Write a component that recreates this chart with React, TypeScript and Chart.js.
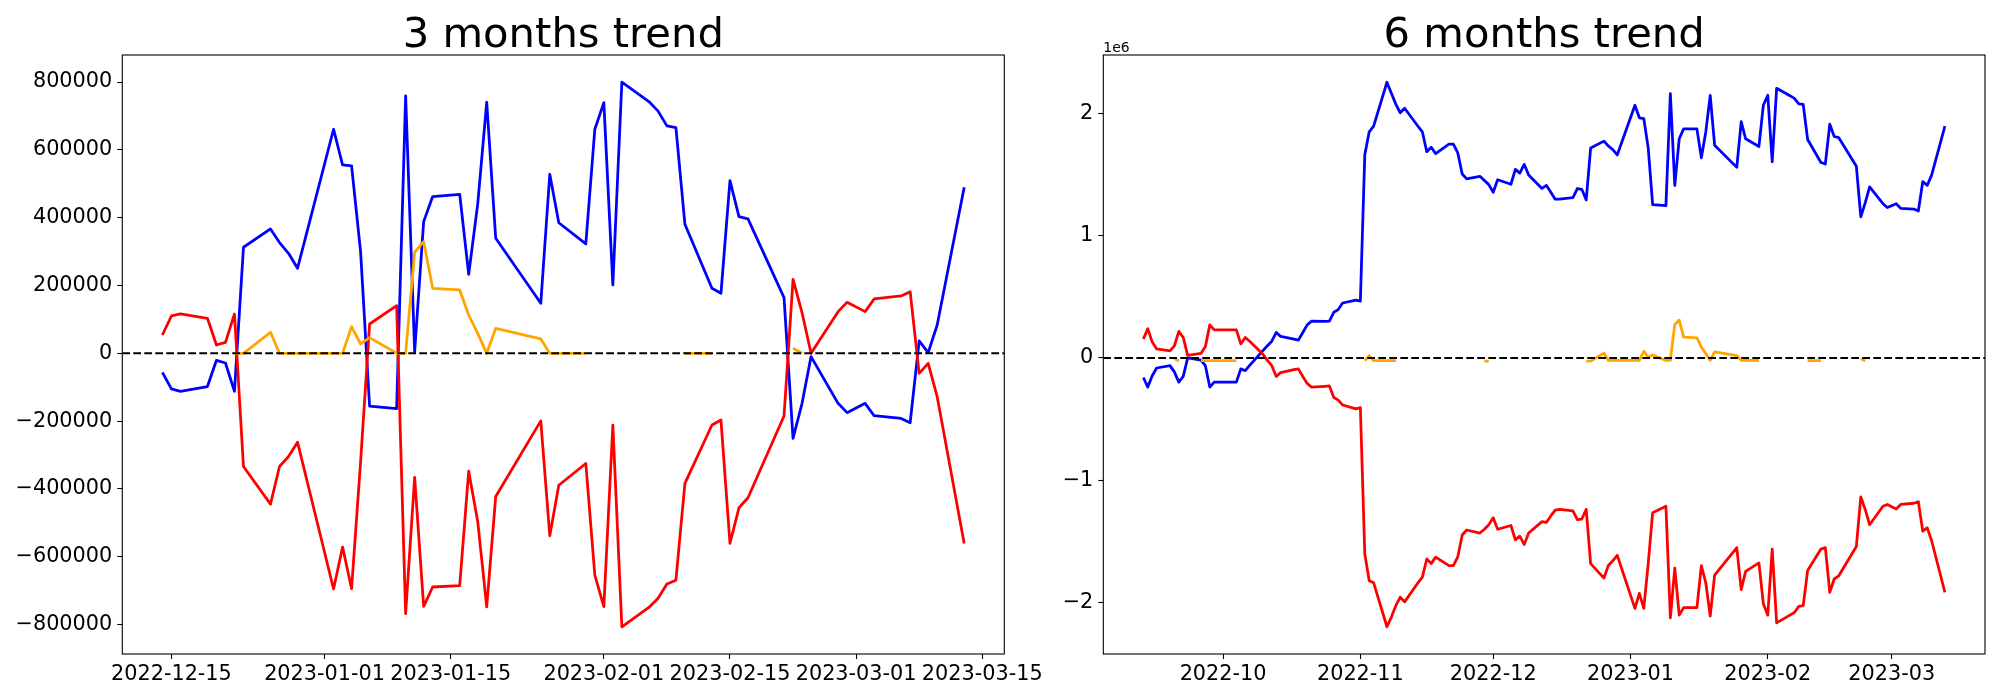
import React, { useEffect, useRef } from "react";
import { Chart, registerables } from "chart.js";

Chart.register(...registerables);

// ---------- 3 months data ----------
const leftDates = [
  "2022-12-14", "2022-12-15", "2022-12-16", "2022-12-19", "2022-12-20", "2022-12-21", "2022-12-22", "2022-12-23",
  "2022-12-26", "2022-12-27", "2022-12-28", "2022-12-29",
  "2023-01-02", "2023-01-03", "2023-01-04", "2023-01-05", "2023-01-06", "2023-01-09", "2023-01-10", "2023-01-11",
  "2023-01-12", "2023-01-13", "2023-01-16", "2023-01-17", "2023-01-18", "2023-01-19", "2023-01-20", "2023-01-25",
  "2023-01-26", "2023-01-27", "2023-01-30", "2023-01-31",
  "2023-02-01", "2023-02-02", "2023-02-03", "2023-02-06", "2023-02-07", "2023-02-08", "2023-02-09", "2023-02-10",
  "2023-02-13", "2023-02-14", "2023-02-15", "2023-02-16", "2023-02-17", "2023-02-21", "2023-02-22", "2023-02-23",
  "2023-02-24", "2023-02-27", "2023-02-28",
  "2023-03-02", "2023-03-03", "2023-03-06", "2023-03-07", "2023-03-08", "2023-03-09", "2023-03-10", "2023-03-13",
];
const leftBlue = [
  -56000, -105000, -112000, -98000, -20600, -28500, -112000, 312700, 366800, 326500, 295000, 250700,
  660800, 555600, 552600, 299900, -156000, -163000, 759100, 5000, 388400, 462200, 469000, 233000, 440000, 740400,
  339200, 147500, 528000, 385000, 322500, 660800,
  739400, 201600, 799400, 742400, 714900, 670600, 665700, 380500, 191700, 177000, 509400, 403200, 396300, 164200,
  -250700, -147500, -9800, -147500, -175000,
  -147500, -184000, -192000, -204800, 36400, 2000, 83600, 489700,
];
const leftRed = [
  54000, 110100, 116000, 103200, 24600, 32400, 116000, -333700, -444700, -333700, -304300, -262100,
  -695000, -571300, -694000, -320000, 86500, 140600, -767600, -366100, -746000, -689100, -685200, -347500, -495700,
  -748000, -422100, -199300, -538000, -389000, -325000, -654000,
  -747000, -211500, -806400, -749500, -723000, -680500, -669000, -383600, -211500, -196800, -560600, -455400,
  -426000, -185000, 218300, 120000, 0, 122900, 150400,
  122900, 160300, 169100, 181900, -59000, -29500, -128000, -560600,
];
const leftOrange = [
  null, null, null, null, null, null, 0, 0, 62000, 0, 0, 0,
  0, 0, 78700, 27500, 46200, 0, 0, 298000, 329400, 191700, 186800, 113000, 59000, 0, 73700, 42300, 0, 0, 0, null,
  null, null, null, null, null, null, null, 0, 0, null, null, null, null, null, 14700, 0, null, null, null,
  null, null, null, null, null, null, null, null,
];

// ---------- 6 months data ----------
const rightDates = [
  "2022-09-13", "2022-09-14", "2022-09-15", "2022-09-16", "2022-09-19", "2022-09-20", "2022-09-21", "2022-09-22",
  "2022-09-23", "2022-09-26", "2022-09-27", "2022-09-28", "2022-09-29", "2022-09-30",
  "2022-10-03", "2022-10-04", "2022-10-05", "2022-10-06", "2022-10-07", "2022-10-10", "2022-10-11", "2022-10-12",
  "2022-10-13", "2022-10-14", "2022-10-17", "2022-10-18", "2022-10-19", "2022-10-20", "2022-10-21", "2022-10-24",
  "2022-10-25", "2022-10-26", "2022-10-27", "2022-10-28", "2022-10-31",
  "2022-11-01", "2022-11-02", "2022-11-03", "2022-11-04", "2022-11-07", "2022-11-08", "2022-11-09", "2022-11-10",
  "2022-11-11", "2022-11-14", "2022-11-15", "2022-11-16", "2022-11-17", "2022-11-18", "2022-11-21", "2022-11-22",
  "2022-11-23", "2022-11-24", "2022-11-25", "2022-11-28", "2022-11-29", "2022-11-30",
  "2022-12-01", "2022-12-02", "2022-12-05", "2022-12-06", "2022-12-07", "2022-12-08", "2022-12-09", "2022-12-12",
  "2022-12-13",
  ...leftDates,
];
const rightBlue = [
  -160000, -238000, -145000, -82000, -63000, -114000, -198000, -151000, 0, -17000, -63000, -238000, -198000, -198000,
  -198000, -198000, -89000, -104000, -60000, 60000, 100000, 137000, 209000, 177000, 155000, 146000, 209000, 271000,
  302000, 299000, 302000, 374000, 396000, 450000, 474000,
  465000, 1663000, 1851000, 1898000, 2257000, 2166000, 2078000, 2007000, 2044000, 1897000, 1850000, 1688000,
  1725000, 1672000, 1750000, 1750000, 1678000, 1506000, 1466000, 1487000, 1453000, 1419000,
  1356000, 1459000, 1422000, 1544000, 1513000, 1585000, 1497000, 1388000, 1413000,
  1356000, 1300000, 1300000, 1313000, 1387000, 1381000, 1294000, 1719000, 1775000, 1735000, 1705000, 1662000,
  2069000, 1966000, 1960000, 1720000, 1256000, 1247000, 2163000, 1413000, 1794000, 1875000, 1875000, 1638000,
  1850000, 2150000, 1741000, 1560000, 1935000, 1794000, 1731000, 2069000,
  2150000, 1606000, 2207000, 2147000, 2125000, 2079000, 2075000, 1788000, 1600000, 1588000, 1913000, 1813000,
  1804000, 1569000, 1156000, 1270000, 1400000, 1263000, 1231000,
  1263000, 1225000, 1219000, 1203000, 1444000, 1413000, 1497000, 1897000,
];
const rightRed = [
  155000, 240000, 130000, 74000, 58000, 99000, 218000, 168000, 21000, 37000, 93000, 271000, 230000, 230000,
  230000, 230000, 115000, 168000, 137000, 30000, -20000, -63000, -151000, -120000, -95000, -89000, -151000, -208000,
  -239000, -232000, -229000, -323000, -345000, -385000, -417000,
  -407000, -1605000, -1824000, -1840000, -2200000, -2121000, -2027000, -1958000, -1996000, -1840000, -1793000,
  -1645000, -1683000, -1630000, -1699000, -1699000, -1627000, -1449000, -1408000, -1433000, -1402000, -1365000,
  -1308000, -1402000, -1371000, -1489000, -1458000, -1527000, -1433000, -1339000, -1346000,
  -1293000, -1245000, -1239000, -1252000, -1324000, -1318000, -1239000, -1683000, -1802000, -1699000, -1660000, -1615000,
  -2049000, -1927000, -2049000, -1683000, -1267000, -1214000, -2127000, -1720000, -2105000, -2043000, -2043000,
  -1699000, -1840000, -2112000, -1777000, -1552000, -1896000, -1746000, -1677000, -2012000,
  -2105000, -1564000, -2168000, -2105000, -2083000, -2033000, -2027000, -1740000, -1564000, -1552000, -1918000,
  -1809000, -1784000, -1543000, -1136000, -1240000, -1365000, -1214000, -1199000,
  -1236000, -1199000, -1189000, -1177000, -1418000, -1390000, -1496000, -1918000,
];
const rightOrange = [
  null, null, null, null, null, -4000, -25000, null, null, -22000, -22000, -22000, -22000, -22000,
  -22000, -22000, null, null, null, null, null, null, null, null, null, null, null, null, null, null, null, null,
  null, null, null,
  null, -22000, 20000, -22000, -22000, -22000, -22000, null, null, null, null, null, null, null, null, null, null,
  null, null, null, -25000, -25000,
  null, null, null, null, null, null, null, null, null,
  null, null, null, null, null, null, -26000, -26000, 40000, -20000, -20000, -20000,
  -20000, -20000, 55000, 5000, 25000, -20000, -20000, 275000, 310000, 170000, 165000, 90000, 35000, -20000, 50000,
  20000, -20000, -20000, -20000, null,
  null, null, null, null, null, null, null, -22000, -22000, null, null, null, null, null, -5000, -25000, null, null, null,
  null, null, null, null, null, null, null, null,
];

// ---------- ticks ----------
const leftXTicks = ["2022-12-15", "2023-01-01", "2023-01-15", "2023-02-01", "2023-02-15", "2023-03-01", "2023-03-15"];
const rightXTicks = ["2022-10", "2022-11", "2022-12", "2023-01", "2023-02", "2023-03"];
const leftYTicks = [-800000, -600000, -400000, -200000, 0, 200000, 400000, 600000, 800000];
const rightYTicks = [-2000000, -1000000, 0, 1000000, 2000000];
const rightYScaleDivisor = 1e6;

const FONT = "'DejaVu Sans', sans-serif";

const toMs = (s: string) => {
  const [y, m, d] = s.split("-").map(Number);
  return Date.UTC(y, m - 1, d || 1);
};
const withMinus = (s: string) => s.replace("-", "\u2212");

type PanelCfg = {
  dates: string[];
  blue: number[];
  red: number[];
  orange: (number | null)[];
  xTicks: string[];
  yTicks: number[];
  yFmt: (v: number) => string;
  title: string;
  offsetText: string;
  padding: { left: number; right: number; top: number; bottom: number };
  yWidth: number;
  xHeight: number;
};

const decor = (title: string, offsetText: string) => ({
  id: "decor",
  afterDatasetsDraw(chart: any) {
    const { ctx, chartArea: a } = chart;
    const y0 = chart.scales.y.getPixelForValue(0);
    ctx.save();
    ctx.beginPath();
    ctx.rect(a.left, a.top, a.right - a.left, a.bottom - a.top);
    ctx.clip();
    ctx.strokeStyle = "#000";
    ctx.lineWidth = 2.08;
    ctx.setLineDash([7.7, 3.3]);
    ctx.beginPath();
    ctx.moveTo(a.left, y0);
    ctx.lineTo(a.right, y0);
    ctx.stroke();
    ctx.restore();
  },
  afterDraw(chart: any) {
    const { ctx, chartArea: a } = chart;
    ctx.save();
    ctx.strokeStyle = "#000";
    ctx.lineWidth = 1.1;
    ctx.strokeRect(a.left, a.top, a.right - a.left, a.bottom - a.top);
    ctx.fillStyle = "#000";
    ctx.font = `41.7px ${FONT}`;
    ctx.textAlign = "center";
    ctx.textBaseline = "alphabetic";
    ctx.fillText(title, (a.left + a.right) / 2, a.top - 8.3);
    if (offsetText) {
      ctx.font = `13.9px ${FONT}`;
      ctx.textAlign = "left";
      ctx.fillText(offsetText, a.left, a.top - 3.4);
    }
    ctx.restore();
  },
});

function buildConfig(p: PanelCfg): any {
  const xs = p.dates.map(toMs);
  const series = (vals: (number | null)[]) => vals.map((v, i) => ({ x: xs[i], y: v }));
  const xMin = Math.min(...xs);
  const xMax = Math.max(...xs);
  const xM = (xMax - xMin) * 0.05;
  const ys = [...p.blue, ...p.red, ...p.orange].filter((v) => v !== null) as number[];
  const yMin = Math.min(...ys);
  const yMax = Math.max(...ys);
  const yM = (yMax - yMin) * 0.05;
  const xTickVals = p.xTicks.map(toMs);
  const tickFont = { family: FONT, size: 20.8 };
  const grid = {
    display: true,
    drawOnChartArea: false,
    drawTicks: true,
    tickLength: 5,
    tickWidth: 1.1,
    tickColor: "#000",
    color: "#000",
  };
  const line = (vals: (number | null)[], color: string) => ({
    data: series(vals),
    borderColor: color,
    backgroundColor: color,
    borderWidth: 2.78,
    borderJoinStyle: "round",
    borderCapStyle: "butt",
    pointRadius: 0,
    pointHoverRadius: 0,
    tension: 0,
    fill: false,
    spanGaps: false,
  });
  return {
    type: "line",
    data: {
      datasets: [line(p.orange, "#ffa500"), line(p.red, "#ff0000"), line(p.blue, "#0000ff")],
    },
    options: {
      responsive: false,
      animation: false,
      devicePixelRatio: 1,
      events: [],
      layout: { padding: p.padding },
      plugins: { legend: { display: false }, tooltip: { enabled: false }, title: { display: false } },
      scales: {
        x: {
          type: "linear",
          bounds: "data",
          min: xMin - xM,
          max: xMax + xM,
          afterBuildTicks: (s: any) => {
            s.ticks = xTickVals.map((v) => ({ value: v }));
          },
          afterFit: (s: any) => {
            s.height = p.xHeight;
          },
          ticks: {
            autoSkip: false,
            maxRotation: 0,
            minRotation: 0,
            padding: 3,
            color: "#000",
            font: tickFont,
            callback: (v: number) => {
              const i = xTickVals.indexOf(v);
              return i >= 0 ? p.xTicks[i] : "";
            },
          },
          grid,
          border: { display: false },
        },
        y: {
          type: "linear",
          bounds: "data",
          min: yMin - yM,
          max: yMax + yM,
          afterBuildTicks: (s: any) => {
            s.ticks = p.yTicks.map((v) => ({ value: v }));
          },
          afterFit: (s: any) => {
            s.width = p.yWidth;
          },
          ticks: {
            padding: 5,
            color: "#000",
            font: tickFont,
            callback: (v: number) => p.yFmt(v),
          },
          grid,
          border: { display: false },
        },
      },
    },
    plugins: [decor(p.title, p.offsetText)],
  };
}

function Panel({ cfg, left, width }: { cfg: PanelCfg; left: number; width: number }) {
  const ref = useRef<HTMLCanvasElement>(null);
  useEffect(() => {
    const chart = new Chart(ref.current as HTMLCanvasElement, buildConfig(cfg));
    return () => chart.destroy();
  }, []);
  return (
    <canvas
      ref={ref}
      width={width}
      height={700}
      style={{ position: "absolute", left, top: 0, width, height: 700 }}
    />
  );
}

const leftCfg: PanelCfg = {
  dates: leftDates,
  blue: leftBlue,
  red: leftRed,
  orange: leftOrange,
  xTicks: leftXTicks,
  yTicks: leftYTicks,
  yFmt: (v) => withMinus(String(v)),
  title: "3 months trend",
  offsetText: "",
  padding: { left: 0, top: 55, right: 55.7, bottom: 0 },
  yWidth: 122.3,
  xHeight: 46,
};

const rightCfg: PanelCfg = {
  dates: rightDates,
  blue: rightBlue,
  red: rightRed,
  orange: rightOrange,
  xTicks: rightXTicks,
  yTicks: rightYTicks,
  yFmt: (v) => withMinus(String(v / rightYScaleDivisor)),
  title: "6 months trend",
  offsetText: "1e6",
  padding: { left: 0, top: 55, right: 15, bottom: 0 },
  yWidth: 63.3,
  xHeight: 46,
};

export default function App() {
  return (
    <div
      style={{
        position: "absolute",
        left: 0,
        top: 0,
        width: 2000,
        height: 700,
        background: "#fff",
        overflow: "hidden",
      }}
    >
      <Panel cfg={leftCfg} left={0} width={1060} />
      <Panel cfg={rightCfg} left={1040} width={960} />
    </div>
  );
}
